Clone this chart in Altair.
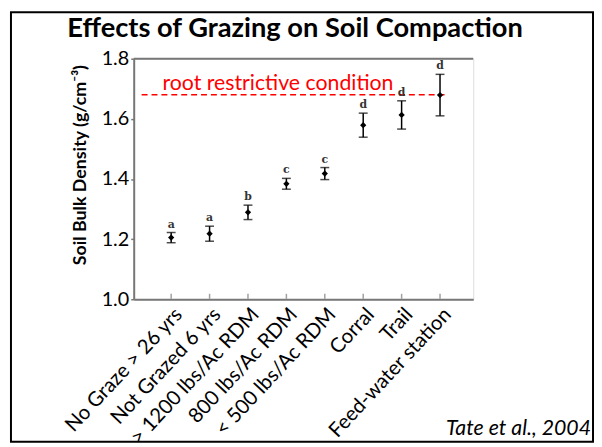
import altair as alt
import pandas as pd

categories = ["No Graze > 26 yrs", "Not Grazed 6 yrs", "> 1200 lbs/Ac RDM",
              "800 lbs/Ac RDM", "< 500 lbs/Ac RDM", "Corral", "Trail",
              "Feed-water station"]
means = [1.205, 1.218, 1.289, 1.384, 1.418, 1.579, 1.613, 1.679]
errors = [0.017, 0.025, 0.024, 0.018, 0.020, 0.040, 0.047, 0.069]
letters = ["a", "a", "b", "c", "c", "d", "d", "d"]
y_ticks = [1.0, 1.2, 1.4, 1.6, 1.8]
threshold = 1.68

df = pd.DataFrame({
    "cat": categories,
    "mean": means,
    "lo": [m - e for m, e in zip(means, errors)],
    "hi": [m + e for m, e in zip(means, errors)],
    "letter": letters,
})

W, H = 343, 243
FONT = "Lato"
AXIS_GRAY = "#777777"

x_scale = alt.Scale(type="point", padding=0.92, align=0.53)
x_enc = alt.X("cat:N", sort=categories, scale=x_scale,
              axis=alt.Axis(title=None, labelAngle=-47, labelAlign="right",
                            labelBaseline="top", labelPadding=5,
                            labelFontSize=20.5, labelFont=FONT, labelColor="black",
                            ticks=False, domainColor=AXIS_GRAY, domainWidth=2,
                            labelLimit=300))
y_scale = alt.Scale(domain=[1.0, 1.8], nice=False, zero=False)
y_axis = alt.Axis(title="Soil Bulk Density (g/cm⁻³)", values=y_ticks, format=".1f",
                  grid=False, labelFontSize=20, labelFont=FONT, labelColor="black",
                  labelPadding=2, tickSize=3, tickColor=AXIS_GRAY, tickWidth=1.5,
                  domainColor=AXIS_GRAY, domainWidth=2,
                  titleFont=FONT, titleFontSize=18, titleFontWeight="bold",
                  titleColor="black", titleX=-54, titleY=107, titleAngle=270,
                  titleAlign="center", titleBaseline="middle")

base = alt.Chart(df)
xc = alt.X("cat:N", sort=categories)

bars = base.mark_rule(color="black", strokeWidth=1.5).encode(
    x=x_enc, y=alt.Y("lo:Q", scale=y_scale, axis=y_axis), y2="hi:Q")
caps_hi = base.mark_tick(color="black", size=9, thickness=1.5).encode(x=xc, y="hi:Q")
caps_lo = base.mark_tick(color="black", size=9, thickness=1.5).encode(x=xc, y="lo:Q")
pts = base.mark_point(filled=True, color="black", size=40, opacity=1,
                      shape="diamond").encode(x=xc, y="mean:Q")
lbls = base.mark_text(font="DejaVu Serif", fontWeight="bold", fontSize=11,
                      color="#333333", baseline="bottom", dy=-3).encode(
    x=xc, y="hi:Q", text="letter:N")
xticks = base.mark_tick(color=AXIS_GRAY, size=5, thickness=1.5, yOffset=-3,
                        orient="vertical").encode(x=xc, y=alt.datum(1.0))

thr = pd.DataFrame({"y": [threshold], "label": ["root restrictive condition"]})
thr_line = alt.Chart(thr).mark_rule(color="red", strokeWidth=1.5,
                                    strokeDash=[6, 4]).encode(
    y="y:Q", x=alt.value(8), x2=alt.value(316))
thr_text = alt.Chart(thr).mark_text(color="red", font=FONT, fontSize=21.5,
                                    align="left", baseline="alphabetic",
                                    dy=-5).encode(
    y="y:Q", x=alt.value(29), text="label:N")

top_line = alt.Chart(pd.DataFrame({"y": [1.8]})).mark_rule(
    color=AXIS_GRAY, strokeWidth=2).encode(y="y:Q", x=alt.value(0), x2=alt.value(W))

notes = pd.DataFrame({"t": ["Effects of Grazing on Soil Compaction"]})
title = alt.Chart(notes).mark_text(font=FONT, fontSize=27.5, fontWeight="bold",
                                   color="black", align="center",
                                   baseline="middle").encode(
    x=alt.value(163), y=alt.value(-30), text="t:N")
cite = alt.Chart(pd.DataFrame({"t": ["Tate et al., 2004"]})).mark_text(
    font=FONT, fontSize=21.5, fontStyle="italic", color="black", align="right",
    baseline="alphabetic").encode(x=alt.value(462), y=alt.value(380), text="t:N")
frame = alt.Chart(notes).mark_rect(fill=None, stroke="black", strokeWidth=2).encode(
    x=alt.value(-124), x2=alt.value(464), y=alt.value(-47), y2=alt.value(387))

chart = alt.layer(frame, top_line, thr_line, thr_text, xticks, bars, caps_hi,
                  caps_lo, pts, lbls, title, cite).properties(
    width=W, height=H,
    padding={"left": 127, "top": 49, "right": 122, "bottom": 145},
    autosize=alt.AutoSizeParams(type="none"),
).configure_view(stroke=None).configure(background="white")

chart.save("out.html", embed_options={"renderer": "svg", "actions": False})
